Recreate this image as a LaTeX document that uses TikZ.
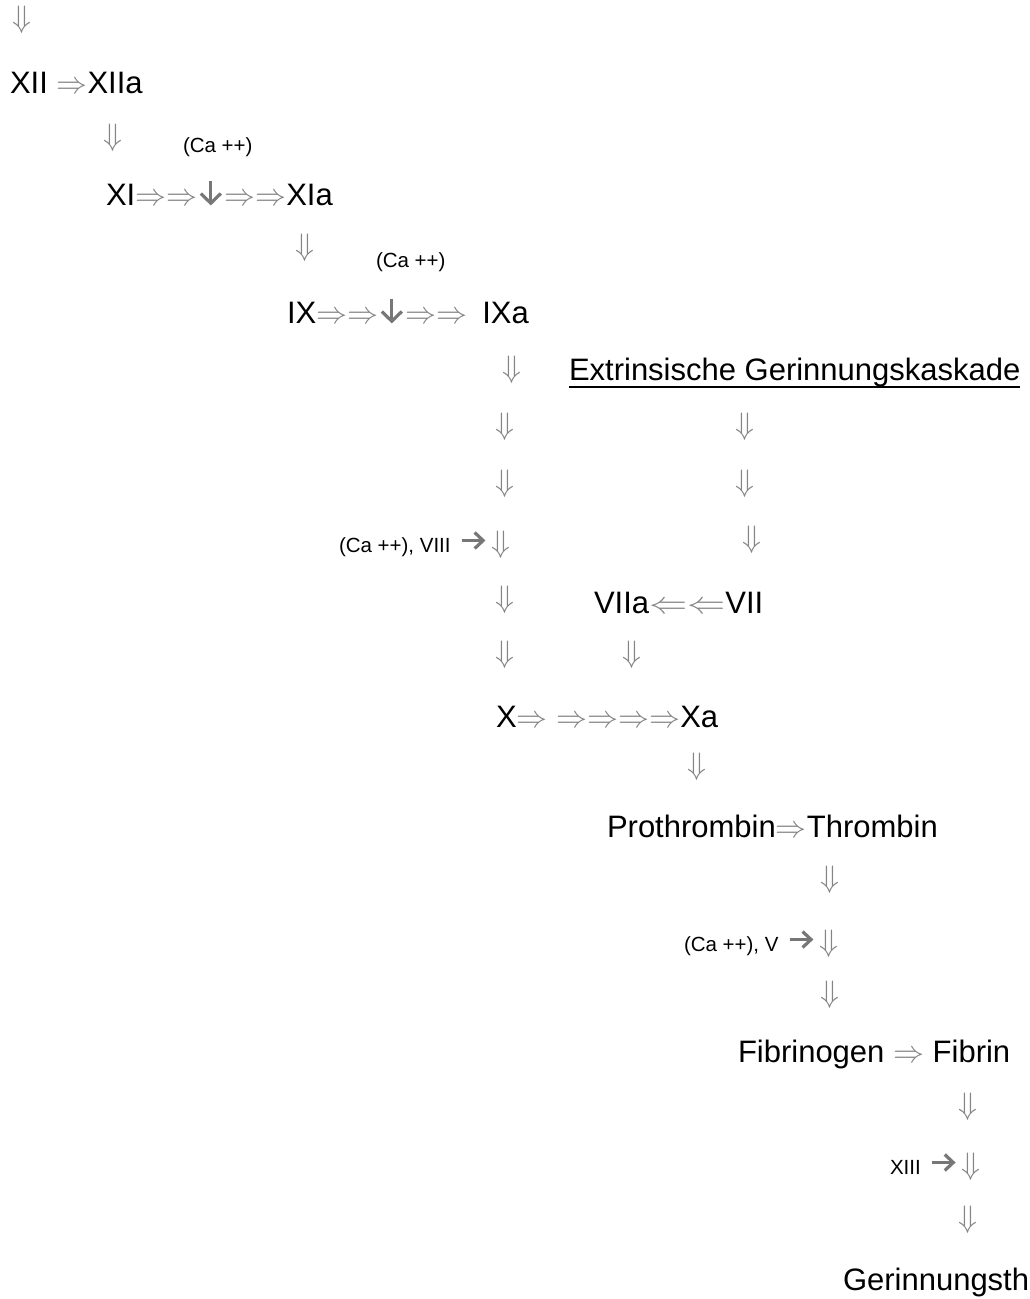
\documentclass[tikz,border=0pt]{standalone}
\usepackage{graphicx}
\usepackage{fontspec}
\setmainfont{Liberation Sans}
\DeclareFontShape{OMS}{cmsy}{m}{n}{<->cmsy10}{}
\DeclareFontShape{OML}{cmm}{m}{it}{<->cmmi10}{}
\DeclareFontShape{OT1}{cmr}{m}{n}{<->cmr10}{}
\DeclareFontShape{OMX}{cmex}{m}{n}{<->cmex10}{}
\definecolor{ag}{HTML}{858585}
\definecolor{bg}{HTML}{777777}
\newcommand\myra{\textcolor{ag}{$\Rightarrow$}}
\newcommand\myla{\textcolor{ag}{\scalebox{1.23}[1]{$\Leftarrow$}}}
\newcommand\myda{\textcolor{ag}{$\Downarrow$}}
\newcommand\mybda{\tikz[baseline=0pt,x=1pt,y=1pt]{\useasboundingbox (0,0) rectangle (27,23);
  \draw[bg,line width=3.2pt] (13.5,24) -- (13.5,3);
  \draw[bg,line width=3.2pt,line join=miter] (3.5,11.5) -- (13.5,1.8) -- (23.5,11.5);}}
\newcommand\mybra{\tikz[baseline=0pt,x=1pt,y=1pt]{\useasboundingbox (0,0) rectangle (24,20);
  \draw[bg,line width=3.2pt] (0,11.5) -- (21,11.5);
  \draw[bg,line width=3.2pt,line join=miter] (13,3.5) -- (21.5,11.5) -- (13,19.5);}}
\newcommand\bigsz{\fontsize{31}{37}\selectfont}
\newcommand\smsz{\fontsize{20.5}{24}\selectfont}
\newcommand\cofac{\hspace{11pt}\mybra\hspace{6pt}{\bigsz\myda}}
\tikzset{
  line/.style={inner sep=0pt, outer sep=0pt, anchor=base west, font=\bigsz},
  small/.style={inner sep=0pt, outer sep=0pt, anchor=base west, font=\smsz},
  darr/.style={inner sep=0pt, outer sep=0pt, anchor=center, font=\bigsz},
}
\begin{document}
\begin{tikzpicture}[x=1pt,y=-1pt]
\useasboundingbox (0,0) rectangle (1029,1299);
% standalone down arrows
\node[darr] (d1) at (22,20) {\myda};
\node[darr] (d2) at (113,138) {\myda};
\node[darr] (d3) at (305,248) {\myda};
\node[darr] (d4) at (512,370) {\myda};
\node[darr] (d5a) at (505,427) {\myda};
\node[darr] (d5b) at (745,427) {\myda};
\node[darr] (d6a) at (505,484) {\myda};
\node[darr] (d6b) at (745,484) {\myda};
\node[darr] (d7b) at (752,540) {\myda};
\node[darr] (d8) at (505,600) {\myda};
\node[darr] (d9a) at (505,655) {\myda};
\node[darr] (d9b) at (632,655) {\myda};
\node[darr] (d10) at (697,767) {\myda};
\node[darr] (d11) at (830,880) {\myda};
\node[darr] (d13) at (830,995) {\myda};
\node[darr] (d14) at (968,1107) {\myda};
\node[darr] (d16) at (968,1220) {\myda};
% text lines
\node[line] (l1) at (10,93) {XII \myra XIIa};
\node[line] (l2) at (106,205) {XI\myra\myra\mybda\myra\myra XIa};
\node[line] (l3) at (287,323) {IX\myra\myra\mybda\myra\myra\hspace{15pt}IXa};
\node[line] (ext) at (569,380) {Extrinsische Gerinnungskaskade};
\draw[line width=2pt] ([yshift=-7pt]ext.base west) -- ([yshift=-7pt]ext.base east);
\node[line] (l7) at (594,613) {VIIa\myla\myla VII};
\node[line] (l8) at (496,727) {X\myra{} \myra\myra\myra\myra Xa};
\node[line] (l9) at (607,837) {Prothrombin\myra Thrombin};
\node[line] (l10) at (738,1062) {Fibrinogen \myra{} Fibrin};
\node[line] (l11) at (843,1290) {Gerinnungsth};
% small labels
\node[small] (s1) at (183,152) {(Ca ++)};
\node[small] (s2) at (376,267) {(Ca ++)};
\node[small] (s3) at (339,552) {(Ca ++), VIII\cofac};
\node[small] (s4) at (684,951) {(Ca ++), V\cofac};
\node[small] (s5) at (890,1174) {XIII\cofac};
\end{tikzpicture}
\end{document}
